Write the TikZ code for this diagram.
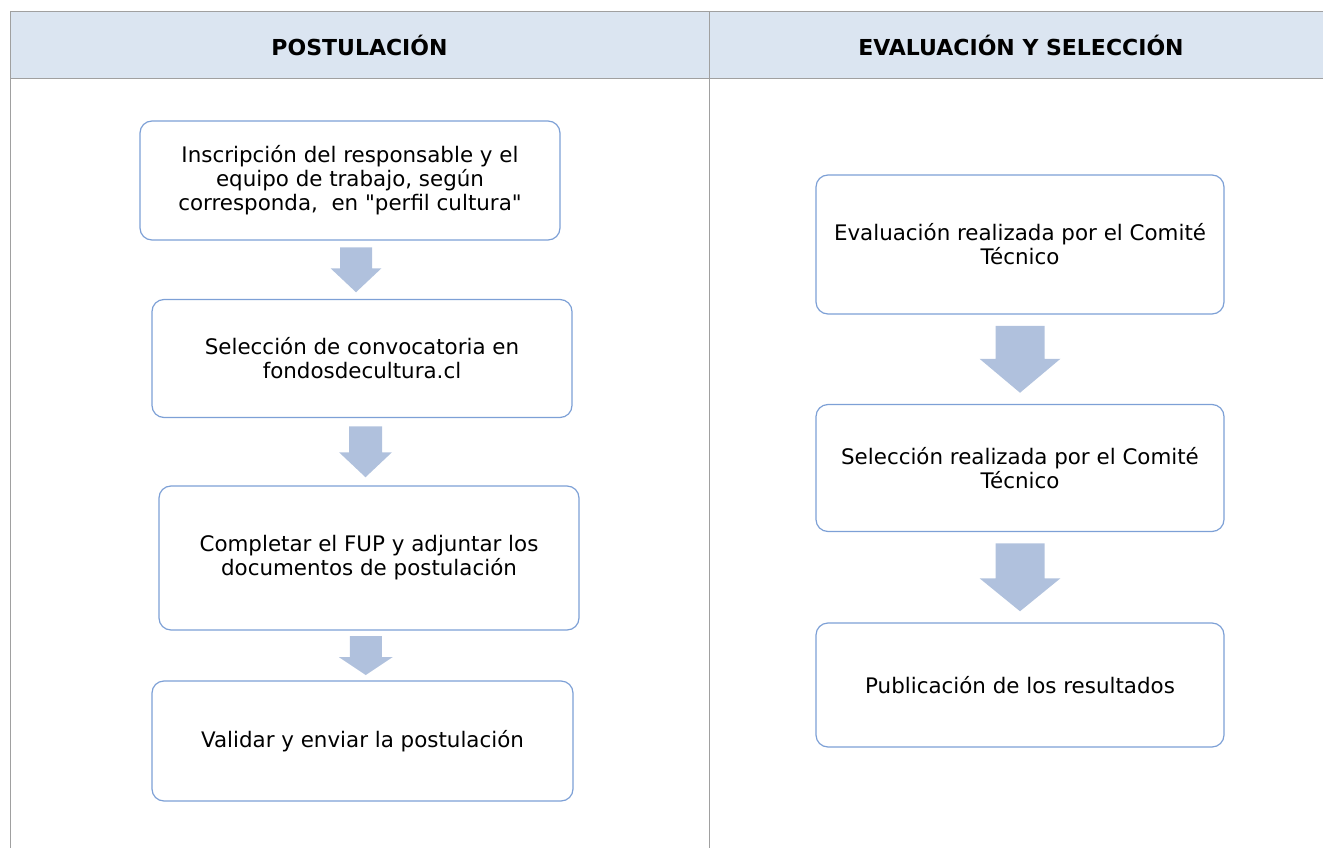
\documentclass[tikz,border=0pt]{standalone}
\usepackage{fontspec}
\setmainfont{DejaVu Sans}[Ligatures=TeXOff]
\usetikzlibrary{calc}
\definecolor{headfill}{HTML}{DBE5F1}
\definecolor{gridline}{HTML}{A0A0A0}
\definecolor{boxline}{HTML}{7DA0D6}
\definecolor{arrowfill}{HTML}{B0C1DD}
\def\blockarrow(#1)(#2)(#3:#4:#5:#6){%
  \coordinate (mid) at ($(#1.south)!0.5!(#2.north)$);
  \fill[arrowfill] ($(mid)+(-#4,-#3)$) -- ($(mid)+(#4,-#3)$) -- ($(mid)+(#4,#3-#6)$) -- ($(mid)+(#5,#3-#6)$)
    -- ($(mid)+(0,#3)$) -- ($(mid)+(-#5,#3-#6)$) -- ($(mid)+(-#4,#3-#6)$) -- cycle;}
\tikzset{
  stepbox/.style={draw=boxline, line width=1.2pt, rounded corners=12pt, fill=white,
    align=center, inner sep=0pt, font=\fontsize{21.4}{24}\selectfont},
  headtext/.style={font=\fontsize{22}{24}\selectfont\bfseries}
}
\begin{document}
\begin{tikzpicture}[x=1pt, y=-1pt]
			%%%%% TABLE %%%%%
			\useasboundingbox (0, 0) rectangle (1323, 848);
			\fill[headfill] (10, 12) rectangle (1323, 79);
			\draw[gridline, line width=1pt] (1323, 12) -- (10, 12) -- (10, 848);
			\draw[gridline, line width=1pt] (10, 79) -- (1323, 79);
			\draw[gridline, line width=1pt] (709, 12) -- (709, 848);
			
			\node[headtext] (hpost) at (359.5, 45) {POSTULACIÓN};
			\node[headtext] (heval) at (1021, 45) {EVALUACIÓN Y SELECCIÓN};
			
			%%%%% POSTULACION %%%%%
			\node[stepbox, minimum width=420pt, minimum height=119pt] (insc) at (350, 180.5)
				{Inscripción del responsable y el\\equipo de trabajo, según\\corresponda,\ \ en "perfil cultura"};
			\node[stepbox, minimum width=420pt, minimum height=118pt] (conv) at (362, 358.5)
				{Selección de convocatoria en\\fondosdecultura.cl};
			\node[stepbox, minimum width=420pt, minimum height=144pt] (fup) at (369, 558)
				{Completar el FUP y adjuntar los\\documentos de postulación};
			\node[stepbox, minimum width=421pt, minimum height=120pt] (envio) at (362.5, 741)
				{Validar y enviar la postulación};
			
			\blockarrow(insc)(conv)(22.5:16:25.5:24)
			\blockarrow(conv)(fup)(25.5:16.5:26.5:25)
			\blockarrow(fup)(envio)(19.5:16:27:18)
			
			%%%%% EVALUACION %%%%%
			\node[stepbox, minimum width=408pt, minimum height=139pt] (eval) at (1020, 244.5)
				{Evaluación realizada por el Comité\\Técnico};
			\node[stepbox, minimum width=408pt, minimum height=127pt] (selec) at (1020, 468)
				{Selección realizada por el Comité\\Técnico};
			\node[stepbox, minimum width=408pt, minimum height=124pt] (publ) at (1020, 685)
				{Publicación de los resultados};
			
			\blockarrow(eval)(selec)(33.5:24.5:40.5:34)
			\blockarrow(selec)(publ)(34:24.5:40.5:33)
			
\end{tikzpicture}
\end{document}
